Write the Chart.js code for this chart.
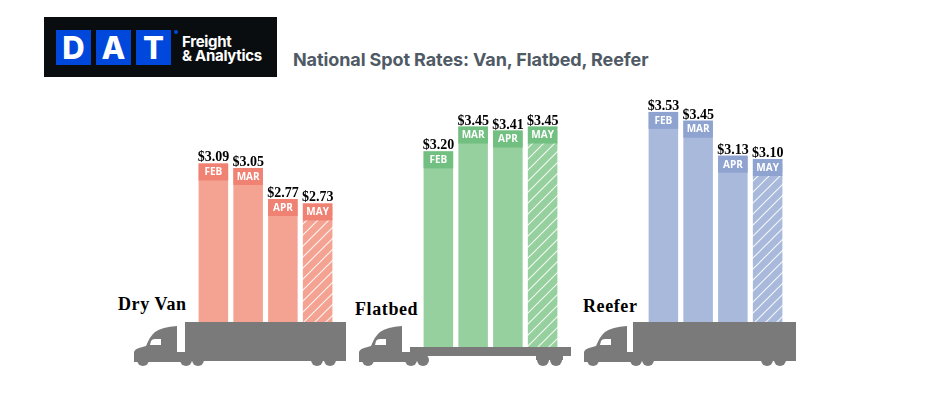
<!DOCTYPE html>
<html>
<head>
<meta charset="utf-8">
<title>National Spot Rates</title>
<script src="https://cdn.jsdelivr.net/npm/chart.js@4"></script>
<style>
  body { margin: 0; background: #fff; width: 925px; height: 394px; overflow: hidden; position: relative; }
  canvas, svg, .txt, .box { position: absolute; }
  .txt { white-space: nowrap; }
  .truckname { font: bold 18px "Liberation Serif", serif; color: #000; letter-spacing: .6px; }
  #logo { left: 44px; top: 17px; width: 233px; height: 60px; background: #0a0d10; }
  .sq { top: 13px; width: 35px; height: 35px; background: #0047db; color: #fff; text-align: center;
        font: 800 31px/35px Inter, sans-serif; }
  .brand { left: 138px; color: #fff; font: 700 15px/14px Inter, sans-serif; letter-spacing: -.3px; }
  #title { left: 293px; top: 49px; font: 700 18px/22px Inter, sans-serif; letter-spacing: -.1px; color: #4f5a65; }
</style>
</head>
<body>
<div id="logo" class="box">
  <div class="box sq" style="left:12px">D</div>
  <div class="box sq" style="left:52px">A</div>
  <div class="box sq" style="left:92px">T</div>
  <div class="box" style="left:130px;top:13px;width:4px;height:4px;border-radius:2px;background:#0047db"></div>
  <div class="txt brand" style="top:18px">Freight</div>
  <div class="txt brand" style="top:32px">&amp; Analytics</div>
</div>
<div id="title" class="txt">National Spot Rates: Van, Flatbed, Reefer</div>

<svg width="925" height="394" style="left:0;top:0">
  <defs>
    <g id="cab" fill="#7a7a7a">
      <path d="M134 362 L134 352 Q135 349 139 348 L146 346 Q150 336 155 332 Q162 327 177 326 L177 352 L190 352 L190 362 Z"/>
      <circle cx="143" cy="360" r="6"/>
      <circle cx="186" cy="360" r="6"/>
      <circle cx="198" cy="360" r="6"/>
      <path d="M150 345 L151 341 Q152 339 155 339 L161 339 L161 345 Z" fill="#fff"/>
    </g>
    <g id="box" fill="#7a7a7a">
      <rect x="185" y="322" width="161" height="39"/>
      <circle cx="317" cy="360" r="6"/>
      <circle cx="330" cy="360" r="6"/>
    </g>
  </defs>
  <use href="#cab"/>
  <use href="#box"/>
  <use href="#cab" x="225"/>
  <g fill="#7a7a7a">
    <rect x="402" y="352" width="20" height="9"/>
    <rect x="410" y="347" width="161" height="9"/>
    <circle cx="543" cy="360" r="6"/>
    <circle cx="556" cy="360" r="6"/>
    <rect x="536" y="354" width="27" height="6"/>
  </g>
  <use href="#cab" x="450"/>
  <use href="#box" x="450"/>
  <rect x="633" y="322" width="4" height="39" fill="#7a7a7a"/>
</svg>

<div class="txt truckname" style="left:118px;top:294px">Dry Van</div>
<div class="txt truckname" style="left:355px;top:299px">Flatbed</div>
<div class="txt truckname" style="left:583px;top:296px">Reefer</div>

<canvas id="vanChart" style="left:196px;top:100px"></canvas>
<canvas id="flatChart" style="left:421px;top:90px"></canvas>
<canvas id="reeferChart" style="left:646px;top:90px"></canvas>

<script>
const months = ['FEB', 'MAR', 'APR', 'MAY']
const dryVan = [3.09, 3.05, 2.77, 2.73]
const flatbed = [3.20, 3.45, 3.41, 3.45]
const reefer = [3.53, 3.45, 3.13, 3.10]

// the source axis doesn't start at zero, these are fitted by eye to the bar heights
const vanAxis = [1.662, 3.662]
const flatAxis = [1.230, 3.818]
const reeferAxis = [1.611, 3.730]

function hatch(color) {
    const c = document.createElement('canvas')
    c.width = 11
    c.height = 11
    const g = c.getContext('2d')
    g.fillStyle = color
    g.fillRect(0, 0, 11, 11)
    g.strokeStyle = 'rgba(255,255,255,0.85)'
    g.lineWidth = 1.2
    g.beginPath()
    g.moveTo(-2, 13); g.lineTo(13, -2)
    g.moveTo(-2, 2); g.lineTo(2, -2)
    g.moveTo(9, 13); g.lineTo(13, 9)
    g.stroke()
    return g.createPattern(c, 'repeat')
}

// month band on top of each bar and the price above it
const barLabels = {
    id: 'barLabels',
    afterDatasetsDraw(chart, args, opts) {
        const ctx = chart.ctx
        ctx.save()
        ctx.textAlign = 'center'
        chart.getDatasetMeta(0).data.forEach((bar, i) => {
            const left = bar.x - bar.width / 2
            ctx.fillStyle = opts.band
            ctx.fillRect(left, bar.y, bar.width, 17)
            ctx.fillStyle = '#fff'
            ctx.font = '700 10px "Open Sans", sans-serif'
            ctx.textBaseline = 'middle'
            ctx.fillText(months[i], bar.x, bar.y + 9)
            ctx.fillStyle = '#000'
            ctx.font = 'bold 14px "Liberation Serif", serif'
            ctx.textBaseline = 'alphabetic'
            ctx.fillText('$' + chart.data.datasets[0].data[i].toFixed(2), bar.x, bar.y - 2)
        })
        ctx.restore()
    }
}

function drawTruck(id, values, axis, height, color, band) {
    const canvas = document.getElementById(id)
    canvas.width = 139
    canvas.height = height
    canvas.style.width = '139px'
    canvas.style.height = height + 'px'
    new Chart(canvas, {
        type: 'bar',
        plugins: [barLabels],
        data: {
            labels: months,
            datasets: [{
                data: values,
                backgroundColor: [color, color, color, hatch(color)],
                barPercentage: 0.85,
                categoryPercentage: 1
            }]
        },
        options: {
            responsive: false,
            animation: false,
            layout: { padding: 0 },
            scales: {
                x: { display: false },
                y: { display: false, min: axis[0], max: axis[1] }
            },
            plugins: {
                legend: { display: false },
                tooltip: { enabled: false },
                barLabels: { band: band }
            }
        }
    })
}

drawTruck('vanChart', dryVan, vanAxis, 222, '#f4a292', '#f08274')
drawTruck('flatChart', flatbed, flatAxis, 257, '#96d09e', '#72bf82')
drawTruck('reeferChart', reefer, reeferAxis, 232, '#a9b9db', '#8ea3cf')
</script>
</body>
</html>
